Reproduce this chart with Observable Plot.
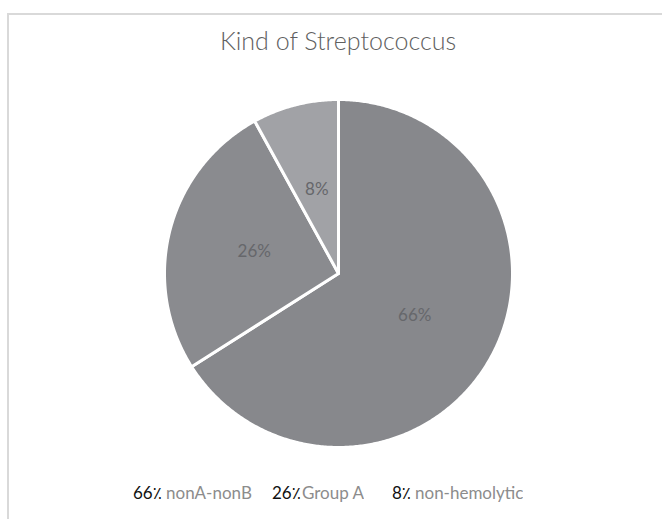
<!DOCTYPE html>
<html>
<head>
<meta charset="utf-8">
<script src="https://cdn.jsdelivr.net/npm/d3@7"></script>
<script src="https://cdn.jsdelivr.net/npm/@observablehq/plot@0.6"></script>
<style>
  html, body { margin: 0; padding: 0; background: #ffffff; }
  body { width: 662px; height: 519px; position: relative; overflow: hidden; font-family: Lato, "Open Sans", "DejaVu Sans", sans-serif; }
  #frame { position: absolute; left: 7px; top: 13px; width: 700px; height: 600px; border-left: 2px solid #d9d9d9; border-top: 2px solid #d9d9d9; pointer-events: none; }
  #title { position: absolute; left: 0; top: 0; width: 676px; height: 80px; line-height: 80px; text-align: center; font-size: 25px; font-weight: 300; color: #606060; }
  #chart { position: absolute; left: 0; top: 80px; }
  #legend { position: absolute; left: 0; top: 481px; width: 662px; height: 24px; font-size: 17px; }
  #legend span { position: absolute; top: 0; white-space: nowrap; line-height: 24px; }
  .pct { color: #111111; }
  .name { color: #8c8c8c; overflow: hidden; }
</style>
</head>
<body>
<div id="frame"></div>
<div id="title"></div>
<div id="chart"></div>
<div id="legend"></div>
<script>
const title = "Kind of Streptococcus";
const categories = ["nonA-nonB", "Group A", "non-hemolytic"];
const values = [66, 26, 8];
const colors = ["#87888c", "#8a8b8f", "#a1a2a6"];
const sliceLabels = ["66%", "26%", "8%"];
const legendPercents = ["66٪", "26٪", "8٪"];

document.getElementById("title").textContent = title;

const total = d3.sum(values);
const slices = [];
let acc = 0;
values.forEach((v, i) => {
  const a0 = acc / total * 2 * Math.PI;
  acc += v;
  const a1 = acc / total * 2 * Math.PI;
  slices.push({name: categories[i], color: colors[i], label: sliceLabels[i], a0, a1});
});

const pts = [];
for (const s of slices) {
  pts.push({name: s.name, color: s.color, x: 0, y: 0});
  const n = Math.max(2, Math.ceil((s.a1 - s.a0) / (Math.PI / 360)));
  for (let k = 0; k <= n; k++) {
    const a = s.a0 + (s.a1 - s.a0) * k / n;
    pts.push({name: s.name, color: s.color, x: Math.sin(a), y: Math.cos(a)});
  }
}

const labelPts = slices.map(s => {
  const m = (s.a0 + s.a1) / 2;
  return {label: s.label, x: 0.5 * Math.sin(m), y: 0.5 * Math.cos(m)};
});

const plot = Plot.plot({
  width: 662,
  height: 380,
  marginLeft: 164,
  marginRight: 150,
  marginTop: 19,
  marginBottom: 13,
  x: {domain: [-1, 1], axis: null},
  y: {domain: [-1, 1], axis: null},
  style: {background: "transparent", fontFamily: "Lato, 'Open Sans', sans-serif"},
  marks: [
    Plot.line(pts, {x: "x", y: "y", z: "name", fill: "color", stroke: "white", strokeWidth: 3, curve: "linear-closed", strokeLinejoin: "round"}),
    Plot.text(labelPts, {x: "x", y: "y", text: "label", fill: "#66676b", fontSize: 17})
  ]
});
document.getElementById("chart").appendChild(plot);

const legendPos = [[133, 166, 90], [272, 302, 80], [392, 415, 130]];
const legend = document.getElementById("legend");
categories.forEach((c, i) => {
  const p = document.createElement("span");
  p.className = "pct";
  p.textContent = legendPercents[i];
  p.style.left = legendPos[i][0] + "px";
  legend.appendChild(p);
  const n = document.createElement("span");
  n.className = "name";
  n.textContent = c;
  n.style.left = legendPos[i][1] + "px";
  n.style.maxWidth = legendPos[i][2] + "px";
  legend.appendChild(n);
});
</script>
</body>
</html>
